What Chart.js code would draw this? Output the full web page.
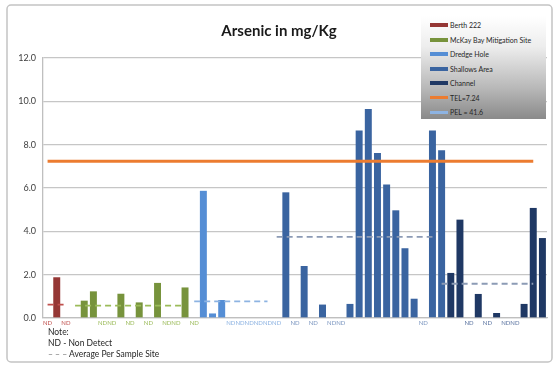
<!DOCTYPE html>
<html>
<head>
<meta charset="utf-8">
<script src="https://cdn.jsdelivr.net/npm/chart.js@4.4.1/dist/chart.umd.min.js"></script>
<style>
html, body { margin: 0; padding: 0; background: #fff; }
#wrap { position: relative; width: 556px; height: 366px; font-family: Lato, "Open Sans", sans-serif; }
#wrap canvas { position: absolute; left: 0; top: 0; }
#legend {
  position: absolute; left: 421px; top: 16px; width: 125px; height: 103px;
  box-sizing: border-box; padding-top: 2px;
  background: linear-gradient(#ffffff 0%, #ededed 30%, #b8b8b8 70%, #8a8a8a 100%);
}
.item { height: 14.5px; display: flex; align-items: center; font-size: 7px; color: #262626; white-space: nowrap; }
.sw { width: 18px; margin: 0 2px 0 9px; }
#note { position: absolute; left: 48px; top: 327px; font-size: 8.5px; color: #262626; line-height: 11px; }
</style>
</head>
<body>
<div id="wrap">
  <canvas id="grafico" width="556" height="366"></canvas>
  <div id="legend"></div>
  <div id="note">Note:<br>ND - Non Detect<br><span style="color:#7f7f7f">&#8211; &#8211; &#8211;</span> Average Per Sample Site</div>
</div>
<script>
// values per sample site, null = ND (non detect)
const berth    = [null, 1.88, null];
const mckay    = [0.80, 1.23, null, null, 1.12, null, 0.72, null, 1.62, null, null, 1.41, null];
const dredge   = [5.87, 0.21, 0.83, null, null, null, null, null, null];
const shallows = [5.80, null, 2.40, null, 0.62, null, null, 0.65, 8.65, 9.65, 7.62, 6.16, 4.97, 3.22, 0.89, null, 8.65, 7.74];
const channel  = [2.08, 4.54, null, 1.11, null, 0.23, null, null, 0.65, 5.08, 3.69];

const siteNames  = ['Berth 222', 'McKay Bay Mitigation Site', 'Dredge Hole', 'Shallows Area', 'Channel'];
const siteStarts = [0, 4, 17, 26, 44];   // first category of each site (slot 3 is an empty gap)
const siteColors = ['#953735', '#77933c', '#558ed5', '#3a64a0', '#1f3864'];
const ndColors   = ['#c0504d', '#9bbb59', '#8db3e2', '#7b96c0', '#5a73a0'];
const avgColors  = ['#c0504d', '#9bbb59', '#8db3e2', '#8c9bb5', '#8c9bb5'];

// average per sample site (dashed)
const siteAverages = [0.62, 0.57, 0.77, 3.74, 1.58];
const avgFrom = [0, 3, 16, 25, 43];
const avgTo   = [2, 15, 24, 42, 53];

const TEL = 7.24, PEL = 41.6;
const telFrom = 0, telTo = 53;
const N = 55;

const siteValues = [berth, mckay, dredge, shallows, channel];

// labels: ND under non detects
const labels = new Array(N).fill('');
const labelSite = new Array(N).fill(-1);
siteValues.forEach((vals, s) => {
  vals.forEach((v, k) => {
    const i = siteStarts[s] + k;
    labelSite[i] = s;
    if (v === null) labels[i] = 'ND';
  });
});

function spread(vals, start) {
  const arr = new Array(N).fill(null);
  vals.forEach((v, k) => { arr[start + k] = v; });
  return arr;
}
function flat(val, from, to) {
  const arr = new Array(N).fill(null);
  for (let i = from; i <= to; i++) arr[i] = val;
  return arr;
}

const datasets = [];
datasets.push({ type: 'line', label: 'TEL=7.24', data: flat(TEL, telFrom, telTo), borderColor: '#ec7c30',
  borderWidth: 3, pointRadius: 0, order: 0 });
datasets.push({ type: 'line', label: 'PEL = 41.6', data: flat(PEL, 0, N - 1), borderColor: '#8db3e2',
  borderWidth: 3, pointRadius: 0, order: 0 });
siteAverages.forEach((a, s) => {
  datasets.push({ type: 'line', label: 'avg ' + siteNames[s], data: flat(a, avgFrom[s], avgTo[s]),
    borderColor: avgColors[s], borderWidth: 1.8, borderDash: [6, 4], pointRadius: 0, order: 0 });
});
siteValues.forEach((vals, s) => {
  datasets.push({ type: 'bar', label: siteNames[s], data: spread(vals, siteStarts[s]),
    backgroundColor: siteColors[s], grouped: false, barPercentage: 0.76, categoryPercentage: 1,
    order: 1 });
});

const molduraPlugin = {
  id: 'moldura',
  beforeDraw(chart) {
    const c = chart.ctx;
    c.save();
    c.strokeStyle = '#c4c4c4';
    c.lineWidth = 1.5;
    c.beginPath();
    c.roundRect(7, 5, 545, 357, 4);
    c.stroke();
    c.restore();
  },
  afterDraw(chart) {
    const c = chart.ctx;
    c.save();
    c.fillStyle = '#1a1a1a';
    c.font = 'bold 15px Lato, "Open Sans", sans-serif';
    c.textAlign = 'center';
    c.textBaseline = 'middle';
    c.fillText('Arsenic in mg/Kg', 279, 31);
    c.restore();
  }
};

const chart = new Chart(document.getElementById('grafico'), {
  data: { labels: labels, datasets: datasets },
  plugins: [molduraPlugin],
  options: {
    responsive: false,
    animation: false,
    layout: { padding: { top: 58, right: 9, left: 0, bottom: 0 } },
    plugins: { legend: { display: false }, tooltip: { enabled: false }, title: { display: false } },
    scales: {
      x: {
        grid: { display: false, drawTicks: false },
        border: { display: true, color: '#bfbfbf', width: 1.3 },
        ticks: {
          autoSkip: false, maxRotation: 0, minRotation: 0, padding: 1,
          font: { family: 'Lato', size: 6 },
          color: (ctx) => ndColors[Math.max(0, labelSite[ctx.index])]
        },
        afterFit: (scale) => { scale.height = 48; }
      },
      y: {
        min: 0, max: 12,
        grid: { color: '#c6c6c6', lineWidth: 1.3, drawTicks: false },
        border: { display: true, color: '#bfbfbf', width: 1.3 },
        ticks: {
          stepSize: 2, padding: 7, color: '#404040',
          font: { family: 'Lato', size: 9 },
          callback: (v) => v.toFixed(1)
        },
        afterFit: (scale) => { scale.width = 43; }
      }
    }
  }
});

// legend box in top right, built from the datasets
const legendOrder = siteNames.concat(['TEL=7.24', 'PEL = 41.6']);
const box = document.getElementById('legend');
legendOrder.forEach((name) => {
  const ds = chart.data.datasets.find((d) => d.label === name);
  const row = document.createElement('div');
  row.className = 'item';
  const sw = document.createElement('span');
  sw.className = 'sw';
  sw.style.height = ds.type === 'bar' ? '4px' : '3px';
  sw.style.background = ds.type === 'bar' ? ds.backgroundColor : ds.borderColor;
  row.appendChild(sw);
  row.appendChild(document.createTextNode(name));
  box.appendChild(row);
});
</script>
</body>
</html>
